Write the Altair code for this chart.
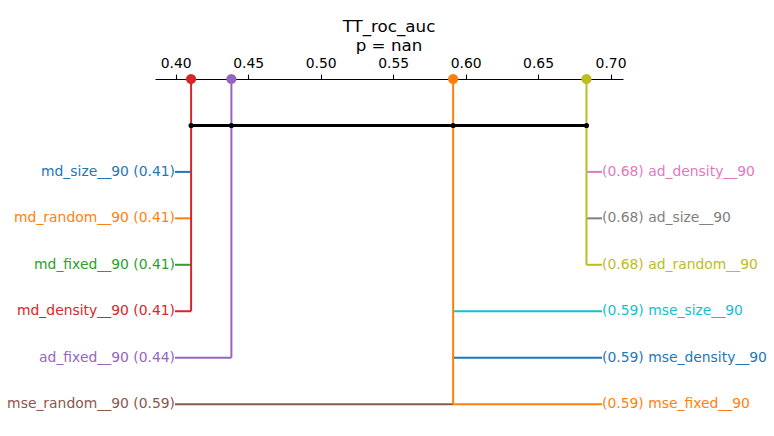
import altair as alt
import pandas as pd

# ---- data ----
left_names = ["md_size__90", "md_random__90", "md_fixed__90", "md_density__90", "ad_fixed__90", "mse_random__90"]
left_values = [0.4106, 0.4106, 0.4106, 0.4106, 0.4384, 0.5914]
right_names = ["ad_density__90", "ad_size__90", "ad_random__90", "mse_size__90", "mse_density__90", "mse_fixed__90"]
right_values = [0.6834, 0.6834, 0.6834, 0.5914, 0.5914, 0.5914]
tick_values = [0.40, 0.45, 0.50, 0.55, 0.60, 0.65, 0.70]
title_lines = ["TT_roc_auc", "p = nan"]

# ---- styling / layout ----
palette = {
    "md_size__90": "#1f77b4", "md_random__90": "#ff7f0e", "md_fixed__90": "#2ca02c",
    "md_density__90": "#d62728", "ad_fixed__90": "#9467bd", "mse_random__90": "#8c564b",
    "ad_density__90": "#e377c2", "ad_size__90": "#7f7f7f", "ad_random__90": "#bcbd22",
    "mse_size__90": "#17becf", "mse_density__90": "#1f77b4", "mse_fixed__90": "#ff7f0e",
}
x_domain = [0.3857, 0.7086]
left_label_x = 0.3995
right_label_x = 0.6941
FONT = "DejaVu Sans"
FS = 13.9

rows = list(range(2, 2 + len(left_names)))

left = pd.DataFrame({"name": left_names, "x": left_values, "xl": left_label_x, "y": rows})
left["label"] = [f"{n} ({v:.2f})" for n, v in zip(left_names, left_values)]
right = pd.DataFrame({"name": right_names, "x": right_values, "xl": right_label_x, "y": rows})
right["label"] = [f"({v:.2f}) {n}" for n, v in zip(right_names, right_values)]

# vertical connectors: one per distinct value, down to the lowest member row
both = pd.concat([left.assign(side=0), right.assign(side=1)])
vert = []
for v, g in both.groupby("x"):
    g = g.sort_values(["y", "side"])
    last = g.iloc[-1]
    vert.append({"x": v, "y": 0, "y2": last["y"], "name": last["name"]})
vert = pd.DataFrame(vert)

clique_x = sorted(set(left_values + right_values))
clique = pd.DataFrame({"x": [min(clique_x)], "x2": [max(clique_x)], "y": [1]})
clique_pts = pd.DataFrame({"x": clique_x, "y": 1})

color_scale = alt.Scale(domain=list(palette.keys()), range=list(palette.values()))
xs = alt.Scale(domain=x_domain, nice=False, zero=False)
ys = alt.Scale(domain=[0, 7.6], nice=False, zero=False, reverse=True)
x_axis = alt.Axis(orient="top", values=tick_values, format=".2f", title=None, grid=False,
                  domainColor="black", domainWidth=1.1, tickColor="black", tickWidth=1.1,
                  tickSize=4.9, labelFont=FONT, labelFontSize=FS, labelColor="black",
                  labelPadding=4)

X = lambda f: alt.X(f"{f}:Q", scale=xs, axis=x_axis)
Y = lambda f: alt.Y(f"{f}:Q", scale=ys, axis=None)
C = alt.Color("name:N", scale=color_scale, legend=None)

hl = alt.Chart(left).mark_rule(strokeWidth=2).encode(x=X("xl"), x2="x:Q", y=Y("y"), color=C)
hr = alt.Chart(right).mark_rule(strokeWidth=2).encode(x=X("xl"), x2="x:Q", y=Y("y"), color=C)
vl = alt.Chart(vert).mark_rule(strokeWidth=2).encode(x=X("x"), y=Y("y"), y2="y2:Q", color=C)
cl = alt.Chart(clique).mark_rule(strokeWidth=3, color="black").encode(x=X("x"), x2="x2:Q", y=Y("y"))
cp = alt.Chart(clique_pts).mark_circle(size=26, color="black", opacity=1).encode(x=X("x"), y=Y("y"))
dots = alt.Chart(vert).mark_circle(size=105, opacity=1).encode(x=X("x"), y=Y("y"), color=C)
tl = alt.Chart(left).mark_text(align="right", baseline="middle", font=FONT, fontSize=FS).encode(
    x=X("xl"), y=Y("y"), text="label:N", color=C)
tr = alt.Chart(right).mark_text(align="left", baseline="middle", font=FONT, fontSize=FS).encode(
    x=X("xl"), y=Y("y"), text="label:N", color=C)

chart = alt.layer(hl, hr, vl, cl, cp, dots, tl, tr).properties(
    width=468, height=353,
    background="white",
    title=alt.TitleParams(title_lines, font=FONT, fontSize=16.7, fontWeight="normal",
                          color="black", anchor="middle", lineHeight=19, offset=1),
    autosize=alt.AutoSizeParams(type="none"),
    padding={"left": 155, "top": 79, "right": 151, "bottom": 4},
).configure_view(stroke=None, strokeWidth=0)

chart.save("out.html", embed_options={"renderer": "svg", "actions": False})
